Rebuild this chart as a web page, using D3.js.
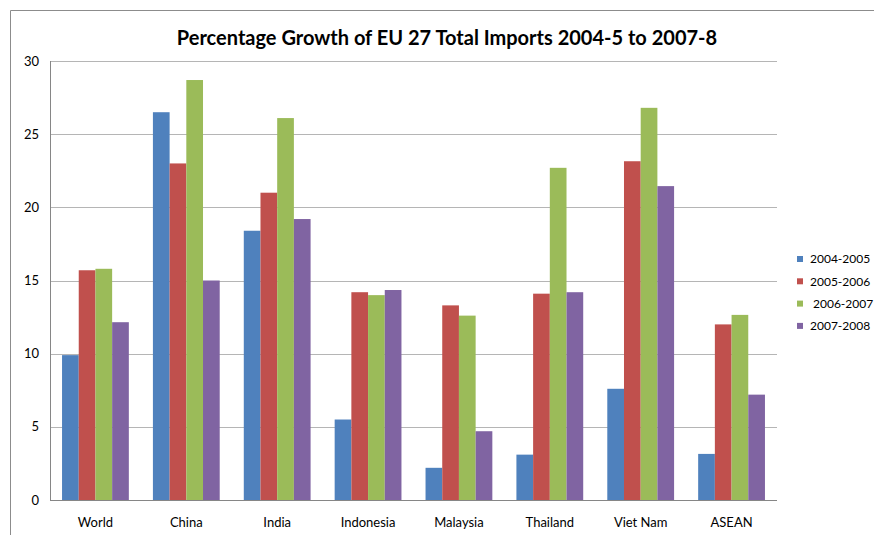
<!DOCTYPE html>
<html>
<head>
<meta charset="utf-8">
<script src="https://cdn.jsdelivr.net/npm/d3@7"></script>
<style>
  body { margin: 0; background: #fff; }
  text { font-family: Lato, "Open Sans", sans-serif; fill: #000; }
</style>
</head>
<body>
<div id="chart"></div>
<script>
// data
const categories = ["World", "China", "India", "Indonesia", "Malaysia", "Thailand", "Viet Nam", "ASEAN"];
const seriesNames = ["2004-2005", "2005-2006", "2006-2007", "2007-2008"];
const s2004_05 = [9.9, 26.5, 18.4, 5.5, 2.2, 3.1, 7.6, 3.15];
const s2005_06 = [15.7, 23.0, 21.0, 14.2, 13.3, 14.1, 23.15, 12.0];
const s2006_07 = [15.8, 28.7, 26.1, 14.0, 12.6, 22.7, 26.8, 12.65];
const s2007_08 = [12.15, 15.0, 19.2, 14.35, 4.7, 14.2, 21.45, 7.2];
const yTicks = [0, 5, 10, 15, 20, 25, 30];

const seriesValues = [s2004_05, s2005_06, s2006_07, s2007_08];
const colors = ["#4F81BD", "#C0504D", "#9BBB59", "#8064A2"];

const width = 874, height = 535;
const margin = { top: 61, right: 97, bottom: 35, left: 50 };

const svg = d3.select("#chart").append("svg")
    .attr("width", width)
    .attr("height", height);

// outer frame (only top and left edges visible)
svg.append("path")
    .attr("d", `M10.5,${height} V10.5 H${width}`)
    .attr("fill", "none")
    .attr("stroke", "#8c8c8c")
    .attr("stroke-width", 1);

const x0 = d3.scaleBand()
    .domain(categories)
    .range([margin.left, width - margin.right])
    .paddingInner(0.265)
    .paddingOuter(0.1325);

const x1 = d3.scaleBand()
    .domain(seriesNames)
    .range([0, x0.bandwidth()]);

const y = d3.scaleLinear()
    .domain([0, 30])
    .range([height - margin.bottom, margin.top]);

// gridlines
svg.append("g")
    .selectAll("line")
    .data(yTicks.filter(d => d > 0))
    .enter()
    .append("line")
    .attr("x1", margin.left)
    .attr("x2", width - margin.right)
    .attr("y1", d => Math.round(y(d)) + 0.5)
    .attr("y2", d => Math.round(y(d)) + 0.5)
    .attr("stroke", "#b5b5b5")
    .attr("stroke-width", 1);

// bars
const groups = svg.append("g")
    .selectAll("g")
    .data(categories)
    .enter()
    .append("g")
    .attr("transform", d => `translate(${x0(d)},0)`);

groups.selectAll("rect")
    .data((c, i) => seriesNames.map((s, k) => ({ s, k, v: seriesValues[k][i] })))
    .enter()
    .append("rect")
    .attr("x", d => x1(d.s))
    .attr("width", x1.bandwidth())
    .attr("y", d => y(d.v))
    .attr("height", d => y(0) - y(d.v))
    .attr("fill", d => colors[d.k]);

// axes lines
svg.append("line")
    .attr("x1", margin.left + 0.5).attr("x2", margin.left + 0.5)
    .attr("y1", margin.top).attr("y2", y(0))
    .attr("stroke", "#868686");
svg.append("line")
    .attr("x1", margin.left).attr("x2", width - margin.right)
    .attr("y1", Math.round(y(0)) + 0.5).attr("y2", Math.round(y(0)) + 0.5)
    .attr("stroke", "#868686");

// y tick labels
svg.append("g")
    .selectAll("text")
    .data(yTicks)
    .enter()
    .append("text")
    .attr("x", 39)
    .attr("y", d => y(d))
    .attr("dy", "0.35em")
    .attr("text-anchor", "end")
    .style("font-size", "13px")
    .text(d => d);

// category labels
svg.append("g")
    .selectAll("text")
    .data(categories)
    .enter()
    .append("text")
    .attr("x", d => x0(d) + x0.bandwidth() / 2)
    .attr("y", 527)
    .attr("text-anchor", "middle")
    .style("font-size", "13px")
    .text(d => d);

// title
svg.append("text")
    .attr("x", 447)
    .attr("y", 45)
    .attr("text-anchor", "middle")
    .style("font-size", "20px")
    .style("font-weight", "bold")
    .text("Percentage Growth of EU 27 Total Imports 2004-5 to 2007-8");

// legend
const legend = svg.append("g")
    .attr("transform", "translate(797, 259)");

const items = legend.selectAll("g")
    .data(seriesNames)
    .enter()
    .append("g")
    .attr("transform", (d, i) => `translate(0, ${i * 22.3})`);

items.append("rect")
    .attr("x", 0)
    .attr("y", -3)
    .attr("width", 6)
    .attr("height", 6)
    .attr("fill", (d, i) => colors[i]);

items.append("text")
    .attr("x", (d, i) => i === 2 ? 16 : 13)
    .attr("y", 0)
    .attr("dy", "0.35em")
    .style("font-size", "12px")
    .text(d => d);
</script>
</body>
</html>
